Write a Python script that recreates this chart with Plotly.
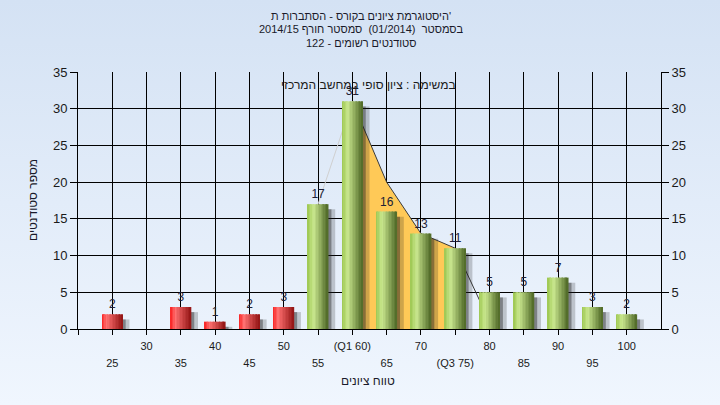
import base64
import plotly.graph_objects as go

# ---------------- data ----------------
categories = [25, 30, 35, 40, 45, 50, 55, 60, 65, 70, 75, 80, 85, 90, 95, 100]
counts = [2, 0, 3, 1, 2, 3, 17, 31, 16, 13, 11, 5, 5, 7, 3, 2]
tick_labels = ['25', '30', '35', '40', '45', '50', '55', '(Q1 60)', '65', '70',
               '(Q3 75)', '80', '85', '90', '95', '100']
curve_x = [55, 60, 65, 70, 75, 80]
curve_y = [17, 31, 20, 13, 11, 1]
q1, q3 = 60, 75
pass_mark = 55

title_lines = ["היסטוגרמת ציונים בקורס - הסתברות ת'",
               "בסמסטר  (01/2014)  סמסטר חורף 2014/15",
               "סטודנטים רשומים - 122"]
inner_label = "במשימה : ציון סופי במחשב המרכזי"
x_title = "טווח ציונים"
y_title = "מספר סטודנטים"

FONT = "Liberation Sans, Arial, sans-serif"
W, H = 720, 405
L, R, T, B = 78, 59, 72, 76
PW, PH = W - L - R, H - T - B


def hex2rgb(h):
    h = h.lstrip('#')
    return [int(h[i:i + 2], 16) for i in (0, 2, 4)]


def shade(stops, t):
    for (t0, c0), (t1, c1) in zip(stops[:-1], stops[1:]):
        if t0 <= t <= t1:
            a = (t - t0) / (t1 - t0)
            r0, r1 = hex2rgb(c0), hex2rgb(c1)
            return 'rgb(%d,%d,%d)' % tuple(round(x + (y - x) * a) for x, y in zip(r0, r1))
    return stops[-1][1]


green_stops = [(0, '#9CC650'), (0.3, '#C9E78E'), (1, '#4E6826')]
red_stops = [(0, '#F82020'), (0.25, '#FF7070'), (1, '#921414')]

fig = go.Figure()

# -------- curve + quartile area (main axes, drawn under the bars) --------
area_x = [x for x in curve_x if q1 <= x <= q3]
area_y = [y for x, y in zip(curve_x, curve_y) if q1 <= x <= q3]
fig.add_trace(go.Scatter(x=area_x, y=area_y, mode='lines', fill='tozeroy',
                         fillcolor='#FFC957', line=dict(color='#3a3a3a', width=1),
                         hoverinfo='skip', showlegend=False))
pre_x = [x for x in curve_x if x <= q1]
pre_y = [y for x, y in zip(curve_x, curve_y) if x <= q1]
fig.add_trace(go.Scatter(x=pre_x, y=pre_y, mode='lines',
                         line=dict(color='#d0d0d0', width=1),
                         hoverinfo='skip', showlegend=False))
post_x = [x for x in curve_x if x >= q3]
post_y = [y for x, y in zip(curve_x, curve_y) if x >= q3]
fig.add_trace(go.Scatter(x=post_x, y=post_y, mode='lines',
                         line=dict(color='#3a3a3a', width=1),
                         hoverinfo='skip', showlegend=False))

# -------- bars (overlay axes) --------
BW = 3.0
# shadows
for dx, alpha in [(1.0, 0.22), (0.45, 0.40)]:
    fig.add_trace(go.Bar(x=categories, y=counts, base=-0.7, width=BW,
                         offset=-BW / 2 + dx,
                         marker=dict(color='rgba(30,30,30,%s)' % alpha, line=dict(width=0)),
                         xaxis='x2', yaxis='y2', hoverinfo='skip', showlegend=False))
N = 14
for i in range(N):
    t = (i + 0.5) / N
    cols = [shade(red_stops if c < pass_mark else green_stops, t) for c in categories]
    fig.add_trace(go.Bar(x=categories, y=counts, width=BW / N + 0.02,
                         offset=-BW / 2 + i * BW / N,
                         marker=dict(color=cols, line=dict(width=0)),
                         xaxis='x2', yaxis='y2', hoverinfo='skip', showlegend=False))

# value labels
fig.add_trace(go.Scatter(x=categories, y=counts, mode='markers+text',
                         marker=dict(size=3, opacity=0),
                         text=[str(v) if v else '' for v in counts],
                         textposition='top center',
                         textfont=dict(family=FONT, size=12, color='#202035'),
                         xaxis='x2', yaxis='y2', hoverinfo='skip', showlegend=False))

upper = [i % 2 == 1 for i in range(len(categories))]
grid_vals = [categories[0] - 5] + categories

x_font = dict(family=FONT, size=11, color='#1a1a1a')
y_font = dict(family=FONT, size=13, color='#1a1a1a')
fig.update_layout(
    width=W, height=H,
    margin=dict(l=L, r=R, t=T, b=B),
    paper_bgcolor='#E2ECF9',
    plot_bgcolor='#B3B3B3',
    barmode='overlay',
    showlegend=False,
    font=dict(family=FONT, size=12, color='#1a1a1a'),
    xaxis=dict(range=[20, 105], tickmode='array', tickvals=grid_vals,
               ticktext=[''] + [lab if up else '' for lab, up in zip(tick_labels, upper)],
               showgrid=True, gridcolor='black', gridwidth=1,
               ticks='outside', ticklen=5, tickcolor='black',
               showline=True, linecolor='black', linewidth=1, zeroline=False,
               ticklabelstandoff=2, tickfont=x_font),
    yaxis=dict(range=[0, 35], dtick=5, showgrid=True, gridcolor='black', gridwidth=1,
               ticks='outside', ticklen=7, tickcolor='black',
               showline=True, linecolor='black', linewidth=1, zeroline=False,
               tickfont=y_font),
    xaxis2=dict(range=[20, 105], overlaying='x', side='bottom', tickmode='array',
                tickvals=categories,
                ticktext=['' if up else lab for lab, up in zip(tick_labels, upper)],
                showgrid=False, ticks='', showline=False, zeroline=False,
                ticklabelstandoff=26, tickfont=x_font),
    yaxis2=dict(range=[0, 35], dtick=5, overlaying='y', side='right', showgrid=False,
                ticks='outside', ticklen=7, tickcolor='black',
                showline=True, linecolor='black', linewidth=1, zeroline=False,
                tickfont=y_font),
)

# background gradient
svg = ("<svg xmlns='http://www.w3.org/2000/svg' width='720' height='405'>"
       "<defs><linearGradient id='g' x1='0' y1='0' x2='0' y2='1'>"
       "<stop offset='0' stop-color='#D4E2F4'/><stop offset='1' stop-color='#F0F6FE'/>"
       "</linearGradient></defs><rect width='720' height='405' fill='url(#g)'/></svg>")
src = 'data:image/svg+xml;base64,' + base64.b64encode(svg.encode()).decode()
fig.add_layout_image(dict(source=src, xref='paper', yref='paper',
                          x=-L / PW, y=1 + T / PH, sizex=W / PW, sizey=H / PH,
                          xanchor='left', yanchor='top', sizing='stretch', layer='below'))

# title lines
for k, line in enumerate(title_lines):
    fig.add_annotation(text=line, xref='paper', yref='paper', x=(361 - L) / PW,
                       y=1 + (T - (16 + 13.5 * k)) / PH,
                       showarrow=False, xanchor='center', yanchor='middle',
                       font=dict(family=FONT, size=11, color='#1a1a2a'))

fig.add_annotation(text=inner_label, xref='paper', yref='paper', x=(368 - L) / PW,
                   y=(329 - 85) / PH, showarrow=False, yanchor='middle',
                   font=dict(family=FONT, size=12, color='#1a1a1a'))
fig.add_annotation(text=x_title, xref='paper', yref='paper', x=(368 - L) / PW,
                   y=(329 - 381) / PH, showarrow=False, yanchor='middle',
                   font=dict(family=FONT, size=12, color='#1a1a2a'))
fig.add_annotation(text=y_title, xref='paper', yref='paper', x=(33 - L) / PW,
                   y=(329 - 200) / PH, showarrow=False, textangle=-90,
                   xanchor='center', yanchor='middle',
                   font=dict(family=FONT, size=12, color='#1a1a2a'))

fig.write_html("out.html", config={'displayModeBar': False},
               post_script="document.body.style.margin='0';")
